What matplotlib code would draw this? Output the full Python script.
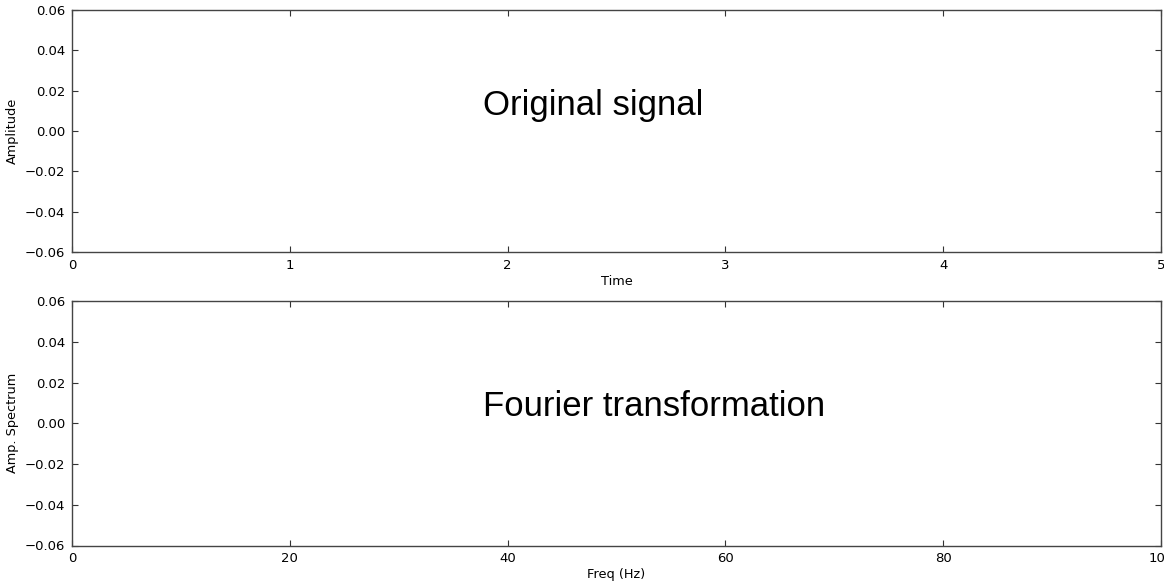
import matplotlib
matplotlib.use("Agg")
import matplotlib.pyplot as plt

# axis ranges and ticks for the two empty panels
time_ticks = [0, 1, 2, 3, 4, 5]
freq_ticks = [0, 20, 40, 60, 80, 100]
amp_ticks = [-0.06, -0.04, -0.02, 0.00, 0.02, 0.04, 0.06]

panels = [
    {"xticks": time_ticks, "xlabel": "Time", "ylabel": "Amplitude",
     "title": "Original signal", "text_y": 0.607},
    {"xticks": freq_ticks, "xlabel": "Freq (Hz)", "ylabel": "Amp. Spectrum",
     "title": "Fourier transformation", "text_y": 0.567},
]

fig = plt.figure(figsize=(11.64, 5.86), dpi=100)
ax1 = fig.add_axes([72 / 1164, 1 - 252 / 586, 1089 / 1164, 242 / 586])
ax2 = fig.add_axes([72 / 1164, 1 - 545.5 / 586, 1089 / 1164, 244.5 / 586])

for ax, p in zip([ax1, ax2], panels):
    ax.set_xlim(p["xticks"][0], p["xticks"][-1])
    ax.set_ylim(amp_ticks[0], amp_ticks[-1])
    ax.set_xticks(p["xticks"])
    ax.set_yticks(amp_ticks)
    ax.set_yticklabels(["\u2212%.2f" % abs(v) if v < 0 else "%.2f" % v for v in amp_ticks])
    ax.tick_params(direction="in", top=True, right=True, length=4, width=0.8,
                   labelsize=9.5, pad=5, color="#333333")
    for s in ax.spines.values():
        s.set_color("#444444")
        s.set_linewidth(1.0)
    ax.set_xlabel(p["xlabel"], fontsize=9.3, labelpad=2)
    ax.set_ylabel(p["ylabel"], fontsize=9.3, labelpad=4)
    ax.text(0.3774, p["text_y"], p["title"], transform=ax.transAxes,
            ha="left", va="center", fontsize=25, family="Liberation Sans")

fig.savefig("out.png", dpi=100)
